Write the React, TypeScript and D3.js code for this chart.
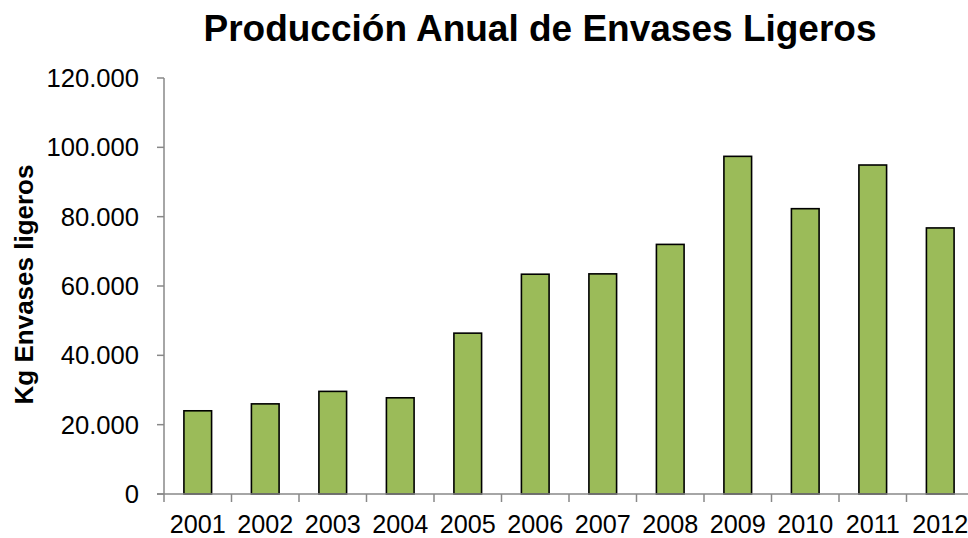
import React from "react";
import * as d3 from "d3";

const years = ["2001","2002","2003","2004","2005","2006","2007","2008","2009","2010","2011","2012"];
const values = [24000, 26000, 29600, 27750, 46400, 63400, 63500, 72000, 97400, 82300, 94900, 76750];
const yTicks = [0, 20000, 40000, 60000, 80000, 100000, 120000];
const title = "Producción Anual de Envases Ligeros";
const yTitle = "Kg Envases ligeros";

const W = 968, H = 538;
const FONT = "'Liberation Sans', Arial, sans-serif";

const fmt = (v: number) => (v === 0 ? "0" : d3.format(",")(v).replace(/,/g, "."));

export default function App() {
  const x = d3.scaleBand<string>().domain(years).range([164, 974]).padding(0);
  const y = d3.scaleLinear().domain([0, 120000]).range([494, 78]);
  const step = x.step();
  const bw = step * 0.41;
  const axisColor = "#888888";
  return (
    <svg width={W} height={H} style={{ position: "absolute", left: 0, top: 0, background: "#fff" }} fontFamily={FONT}>
      <text x={540} y={41} textAnchor="middle" fontSize={37} fontWeight="bold" fill="#000">{title}</text>
      <text transform={`translate(32.5,${284.5}) rotate(-90)`} textAnchor="middle" fontSize={26} fontWeight="bold" fill="#000">{yTitle}</text>
      {values.map((v, i) => {
        const cx = (x(years[i]) as number) + step / 2;
        return (
          <rect key={years[i]} x={cx - bw / 2} y={y(v)} width={bw} height={y(0) - y(v)}
            fill="#9BBB59" stroke="#000" strokeWidth={1.6} />
        );
      })}
      <line x1={164} x2={164} y1={y(120000)} y2={y(0)} stroke={axisColor} strokeWidth={1.5} />
      {yTicks.map(t => (
        <g key={t}>
          <line x1={157} x2={164} y1={y(t)} y2={y(t)} stroke={axisColor} strokeWidth={1.5} />
          <text x={139} y={y(t)} dy="0.35em" textAnchor="end" fontSize={25.6} fill="#000">{fmt(t)}</text>
        </g>
      ))}
      <line x1={157} x2={W} y1={y(0)} y2={y(0)} stroke={axisColor} strokeWidth={1.5} />
      {years.map(yr => (
        <line key={"t" + yr} x1={x(yr) as number} x2={x(yr) as number} y1={494} y2={502} stroke={axisColor} strokeWidth={1.5} />
      ))}
      {years.map(yr => (
        <text key={"l" + yr} x={(x(yr) as number) + step / 2} y={533} textAnchor="middle" fontSize={25.2} fill="#000">{yr}</text>
      ))}
    </svg>
  );
}
